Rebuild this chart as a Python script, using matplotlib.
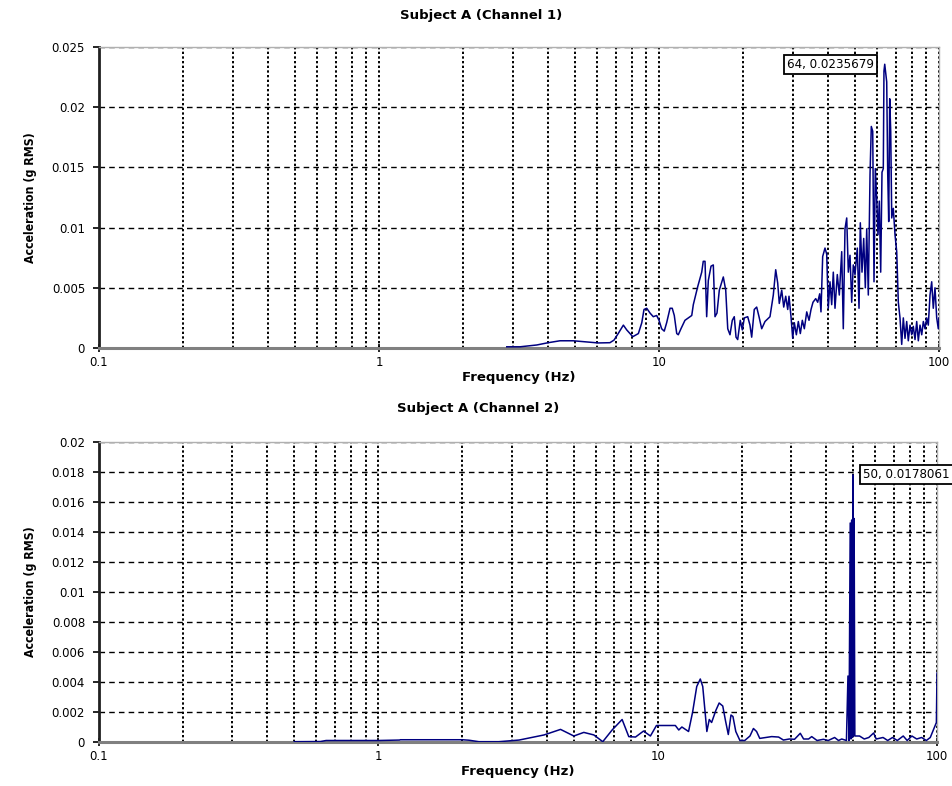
import matplotlib
matplotlib.use("Agg")
import matplotlib.pyplot as plt
from matplotlib.ticker import FixedLocator, FixedFormatter, LogLocator, NullFormatter

# ---- Channel 1 spectrum (Hz, g RMS) ----
ch1_freq = [2.86, 3.19, 3.66, 4.02, 4.43, 4.94, 5.52, 6.07, 6.68, 6.91, 7.15, 7.46, 7.67,
            8.06, 8.44, 8.68, 8.84, 9.04, 9.29, 9.54, 9.81, 10.0, 10.22, 10.44, 10.65,
            10.95, 11.15, 11.34, 11.57, 11.72, 11.98, 12.38, 13.09, 13.26, 13.75, 14.21,
            14.39, 14.60, 14.80, 15.00, 15.34, 15.63, 15.85, 16.11, 16.42, 16.97, 17.31,
            17.60, 17.93, 18.27, 18.57, 18.84, 19.10, 19.51, 19.84, 20.17, 20.74, 21.13,
            21.43, 21.89, 22.33, 22.76, 23.27, 23.91, 24.91, 25.60, 26.11, 26.54, 26.89,
            27.43, 27.89, 28.35, 28.82, 29.13, 29.61, 30.03, 30.43, 30.94, 31.45, 31.97,
            32.50, 33.04, 33.70, 34.34, 34.91, 35.48, 36.28, 36.88, 37.49, 37.89, 38.42,
            39.16, 39.71, 40.23, 40.80, 41.38, 41.93, 42.52, 43.33, 44.05, 44.93, 45.52,
            46.16, 46.82, 47.44, 48.10, 48.78, 49.42, 50.12, 51.08, 51.80, 52.36, 53.09,
            53.84, 54.56, 55.19, 55.92, 56.71, 57.31, 57.98, 58.60, 59.23, 59.91, 60.55,
            61.21, 61.91, 62.58, 63.25, 63.60, 64.0, 65.05, 65.58, 66.13, 66.68, 67.23,
            67.79, 68.68, 69.65, 70.63, 71.56, 72.56, 73.59, 74.57, 75.61, 76.67, 77.69,
            78.78, 79.89, 80.95, 82.10, 83.25, 84.36, 85.55, 86.76, 87.91, 89.13, 90.39,
            91.58, 92.88, 94.17, 95.41, 96.76, 98.13, 99.43, 100.0]
ch1_acc = [0.0001, 0.0001, 0.00025, 0.00044, 0.0006, 0.0006, 0.0005, 0.00042, 0.00044,
           0.00066, 0.0012, 0.0019, 0.0015, 0.00094, 0.0012, 0.0021, 0.0032, 0.0033,
           0.0029, 0.0026, 0.0027, 0.0023, 0.0016, 0.0014, 0.0021, 0.0033, 0.0033, 0.0027,
           0.0012, 0.0011, 0.0016, 0.0023, 0.0027, 0.0036, 0.0051, 0.0063, 0.0072, 0.0072,
           0.0026, 0.0056, 0.0068, 0.0069, 0.0026, 0.0029, 0.0048, 0.0059, 0.0048, 0.0016,
           0.0011, 0.0023, 0.0026, 0.0009, 0.0007, 0.0023, 0.0015, 0.0025, 0.0026, 0.0019,
           0.0009, 0.0032, 0.0034, 0.0026, 0.0016, 0.0022, 0.0026, 0.0044, 0.0065, 0.0054,
           0.0037, 0.0048, 0.0034, 0.0043, 0.0032, 0.0043, 0.0026, 0.0008, 0.0021, 0.0011,
           0.0022, 0.0012, 0.0023, 0.0016, 0.0030, 0.0023, 0.0032, 0.0038, 0.0041, 0.0038,
           0.0045, 0.0030, 0.0076, 0.0083, 0.0078, 0.0033, 0.0055, 0.0036, 0.0063, 0.0033,
           0.0061, 0.0044, 0.0080, 0.0016, 0.0099, 0.0108, 0.0063, 0.0077, 0.0038, 0.0069,
           0.0061, 0.0083, 0.0033, 0.0104, 0.0063, 0.0091, 0.0050, 0.0099, 0.0044, 0.0144,
           0.0184, 0.0180, 0.0055, 0.0149, 0.0124, 0.0094, 0.0122, 0.0063, 0.0146, 0.0149,
           0.0230, 0.0235679, 0.0221, 0.0146, 0.0105, 0.0207, 0.0180, 0.0108, 0.0116,
           0.0094, 0.0080, 0.0038, 0.0025, 0.0003, 0.0025, 0.0008, 0.0022, 0.0006, 0.0019,
           0.0011, 0.0018, 0.0007, 0.0022, 0.0006, 0.0019, 0.0011, 0.0022, 0.0016, 0.0025,
           0.0019, 0.0044, 0.0055, 0.0033, 0.0050, 0.0025, 0.0016, 0.0025]

# ---- Channel 2 spectrum (Hz, g RMS) ----
ch2_freq = [0.5, 0.62, 0.65, 1.0, 1.19, 1.2, 2.0, 2.11, 2.29, 2.70, 3.19, 3.92, 4.49, 5.01,
            5.44, 5.91, 6.36, 6.87, 7.46, 7.88, 8.33, 8.9, 9.42, 9.9, 11.57, 11.9, 12.21,
            12.9, 13.34, 13.8, 14.21, 14.5, 14.8, 15.0, 15.3, 15.6, 16.15, 16.6, 17.1, 17.5,
            17.9, 18.3, 18.6, 19.04, 19.7, 20.5, 21.4, 22.02, 22.6, 23.2, 25.6, 27.1, 28.2,
            29.6, 30.9, 32.4, 33.3, 34.7, 35.6, 37.2, 39.2, 40.8, 43.0, 44.4, 45.6, 47.4,
            48.0, 48.4, 48.9, 49.2, 49.5, 49.75, 50.0, 50.25, 50.5, 50.8, 52.8,
            54.9, 57.0, 59.3, 60.6, 64.1, 66.6, 69.3, 72.1, 75.7, 78.2, 81.3, 84.6, 88.1,
            91.6, 94.6, 99.5, 100.0]
ch2_acc = [0.00002, 0.00003, 0.0001, 0.0001, 0.00013, 0.00015, 0.00015, 0.00012, 0.00002,
           0.00002, 0.00013, 0.00047, 0.00084, 0.0004, 0.00064, 0.00047, 0.00002, 0.0008,
           0.0015, 0.00036, 0.00033, 0.00073, 0.0004, 0.0011, 0.0011, 0.0008, 0.001, 0.0007,
           0.002, 0.0037, 0.0042, 0.0037, 0.0019, 0.0007, 0.0015, 0.0013, 0.0021, 0.0026,
           0.0024, 0.0014, 0.0005, 0.0018, 0.0017, 0.0007, 0.0001, 0.0001, 0.0004, 0.0009,
           0.0007, 0.00024, 0.00036, 0.00033, 0.00013, 0.0002, 0.00018, 0.00058, 0.0002,
           0.0002, 0.00036, 0.0001, 0.00018, 0.0001, 0.0003, 0.0001, 0.0002, 0.0001, 0.0044,
           0.0001, 0.0146, 0.0002, 0.0148, 0.0003, 0.0178061, 0.0004, 0.0149, 0.0004,
           0.0004, 0.0002, 0.0003, 0.0006, 0.0002, 0.0003, 0.0001, 0.0003, 0.0001,
           0.0004, 0.0001, 0.0004, 0.0002, 0.0003, 0.0001, 0.0003, 0.0013, 0.0046]

# ---- axis ticks ----
x_ticks = [0.1, 1, 10, 100]
x_tick_labels = ["0.1", "1", "10", "100"]
y1_ticks = [0, 0.005, 0.01, 0.015, 0.02, 0.025]
y1_tick_labels = ["0", "0.005", "0.01", "0.015", "0.02", "0.025"]
y2_ticks = [0, 0.002, 0.004, 0.006, 0.008, 0.01, 0.012, 0.014, 0.016, 0.018, 0.02]
y2_tick_labels = ["0", "0.002", "0.004", "0.006", "0.008", "0.01", "0.012", "0.014",
                  "0.016", "0.018", "0.02"]

titles = ["Subject A (Channel 1)", "Subject A (Channel 2)"]
x_label = "Frequency (Hz)"
y_label = "Acceleration (g RMS)"
peaks = [(64, 0.0235679), (50, 0.0178061)]

W, H = 953, 786
fig = plt.figure(figsize=(W / 100, H / 100), dpi=100)
fig.patch.set_facecolor("white")

TICK_FAMILY = "DejaVu Sans"
TICK_SIZE = 8.5
LINE_COLOR = "#000080"


def px_axes(left, top, right, bottom):
    return fig.add_axes([left / W, 1 - bottom / H, (right - left) / W, (bottom - top) / H])


def style_axes(ax, yticks, ylabels, ymax):
    ax.set_xscale("log")
    ax.set_xlim(0.1, 100)
    ax.set_ylim(0, ymax)
    ax.xaxis.set_major_locator(FixedLocator(x_ticks))
    ax.xaxis.set_major_formatter(FixedFormatter(x_tick_labels))
    ax.xaxis.set_minor_locator(LogLocator(base=10, subs=range(2, 10)))
    ax.xaxis.set_minor_formatter(NullFormatter())
    ax.yaxis.set_major_locator(FixedLocator(yticks))
    ax.yaxis.set_major_formatter(FixedFormatter(ylabels))
    ax.tick_params(axis="x", which="major", direction="inout", length=6, width=1.2,
                   color="black", pad=3)
    ax.tick_params(axis="x", which="minor", length=0)
    ax.tick_params(axis="y", which="major", direction="out", length=4, width=1.2,
                   color="black", pad=6)
    for lab in ax.get_xticklabels() + ax.get_yticklabels():
        lab.set_fontfamily(TICK_FAMILY)
        lab.set_fontsize(TICK_SIZE)
    ax.grid(True, axis="y", which="major", color="black", linestyle=(0, (4, 3)), linewidth=1.0)
    ax.grid(True, axis="x", which="both", color="black", linestyle=(0, (1.2, 1.2)), linewidth=1.4)
    ax.set_axisbelow(True)
    ax.spines["left"].set_color("#202020")
    ax.spines["left"].set_linewidth(2.0)
    ax.spines["bottom"].set_color("#808080")
    ax.spines["bottom"].set_linewidth(2.2)
    for s in ("top", "right"):
        ax.spines[s].set_color("#b0b0b0")
        ax.spines[s].set_linewidth(1.0)
    ax.set_xlabel(x_label, fontfamily="DejaVu Sans", fontweight="bold", fontsize=9.5)
    ax.xaxis.set_label_coords(0.5, -0.075)
    ax.set_ylabel(y_label, fontfamily="DejaVu Sans", fontstretch="condensed",
                  fontweight="bold", fontsize=8.8)
    ax.yaxis.set_label_coords(-0.074, 0.5)


ax1 = px_axes(99, 47, 939, 348)
ax1.plot(ch1_freq, ch1_acc, color=LINE_COLOR, linewidth=1.1, zorder=3)
style_axes(ax1, y1_ticks, y1_tick_labels, 0.025)
ax1.annotate(f"{peaks[0][0]}, {peaks[0][1]}", xy=peaks[0], xytext=(-11, 0),
             textcoords="offset pixels", ha="right", va="center",
             fontfamily=TICK_FAMILY, fontsize=8.6,
             bbox=dict(boxstyle="square,pad=0.25", fc="white", ec="black", lw=1.3),
             annotation_clip=False, zorder=5)

ax2 = px_axes(99, 442, 937, 742)
ax2.plot(ch2_freq, ch2_acc, color=LINE_COLOR, linewidth=1.1, zorder=3)
style_axes(ax2, y2_ticks, y2_tick_labels, 0.02)
t2 = ax2.annotate(f"{peaks[1][0]}, {peaks[1][1]}", xy=peaks[1], xytext=(10, 0),
                  textcoords="offset pixels", ha="left", va="center",
                  fontfamily=TICK_FAMILY, fontsize=8.6,
                  bbox=dict(boxstyle="square,pad=0.25", fc="white", ec="black", lw=1.3),
                  annotation_clip=False, zorder=5)
t2.set_clip_on(False)

fig.text(481 / W, 1 - 15 / H, titles[0], ha="center", va="center",
         fontfamily="DejaVu Sans", fontweight="bold", fontsize=9.5)
fig.text(478 / W, 1 - 409 / H, titles[1], ha="center", va="center",
         fontfamily="DejaVu Sans", fontweight="bold", fontsize=9.5)

fig.savefig("out.png", dpi=100, facecolor="white")
